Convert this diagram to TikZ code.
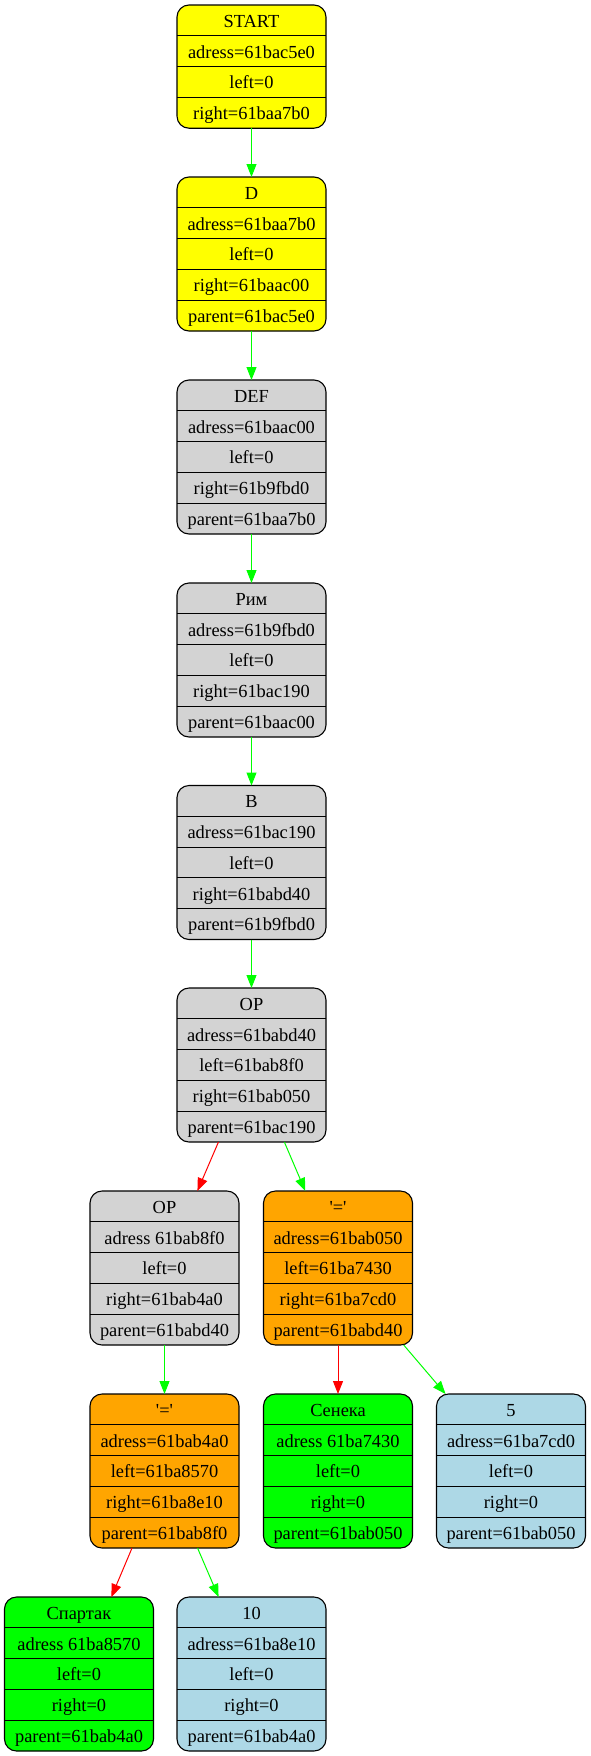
\documentclass[tikz,border=0pt]{standalone}
\usepackage{fontspec}
\setmainfont{Liberation Serif}[Ligatures=TeXOff]
\usetikzlibrary{arrows.meta}
\definecolor{gvyellow}{RGB}{255,255,0}
\definecolor{gvgray}{RGB}{211,211,211}
\definecolor{gvorange}{RGB}{255,165,0}
\definecolor{gvgreen}{RGB}{0,255,0}
\definecolor{gvblue}{RGB}{173,216,230}
\definecolor{gvred}{RGB}{255,0,0}
\tikzset{
  rec/.style={rectangle, draw=black, line width=1.1pt, rounded corners=12pt,
    minimum width=149pt, inner sep=0pt, outer sep=0pt},
  cell/.style={anchor=base, inner sep=0pt, font=\fontsize{18.4}{20}\selectfont},
  divider/.style={line width=1pt},
  gedge/.style={draw=gvgreen, line width=1pt, -{Triangle[length=13pt,width=10pt,fill=gvgreen]}},
  redge/.style={draw=gvred, line width=1pt, -{Triangle[length=13pt,width=10pt,fill=gvred]}}
}
% #1 name, #2 x centre, #3 y top, #4 fill, #5 number of rows, #6 rows
\newcommand\recbox[6]{%
  \node[rec, fill=#4, minimum height=#5*30.8pt, anchor=north] (#1) at (#2,#3) {};
  \foreach \t [count=\i] in {#6} {
    \node[cell] (#1-\i) at (#2, #3+\i*30.8-8.6) {\t};
    \ifnum\i>1
      \draw[divider] (#2-74.5, #3+\i*30.8-30.8) -- (#2+74.5, #3+\i*30.8-30.8);
    \fi
  }
}
\begin{document}
\begin{tikzpicture}[x=1pt, y=-1pt]
\useasboundingbox (0,0) rectangle (591,1756);
\recbox{start}{251.5}{5}{gvyellow}{4}{START, adress=61bac5e0, left=0, right=61baa7b0}
\recbox{d}{251.5}{177}{gvyellow}{5}{D, adress=61baa7b0, left=0, right=61baac00, parent=61bac5e0}
\recbox{def}{251.5}{380}{gvgray}{5}{DEF, adress=61baac00, left=0, right=61b9fbd0, parent=61baa7b0}
\recbox{rim}{251.5}{583}{gvgray}{5}{Рим, adress=61b9fbd0, left=0, right=61bac190, parent=61baac00}
\recbox{b}{251.5}{785.5}{gvgray}{5}{B, adress=61bac190, left=0, right=61babd40, parent=61b9fbd0}
\recbox{op}{251.5}{988}{gvgray}{5}{OP, adress=61babd40, left=61bab8f0, right=61bab050, parent=61bac190}
\recbox{opl}{164.5}{1191}{gvgray}{5}{OP, adress 61bab8f0, left=0, right=61bab4a0, parent=61babd40}
\recbox{eqr}{338}{1191}{gvorange}{5}{'=', adress=61bab050, left=61ba7430, right=61ba7cd0, parent=61babd40}
\recbox{eql}{164.5}{1394}{gvorange}{5}{'=', adress=61bab4a0, left=61ba8570, right=61ba8e10, parent=61bab8f0}
\recbox{seneca}{338}{1394}{gvgreen}{5}{Сенека, adress 61ba7430, left=0, right=0, parent=61bab050}
\recbox{five}{511}{1394}{gvblue}{5}{5, adress=61ba7cd0, left=0, right=0, parent=61bab050}
\recbox{spartak}{79}{1597}{gvgreen}{5}{Спартак, adress 61ba8570, left=0, right=0, parent=61bab4a0}
\recbox{ten}{251.5}{1597}{gvblue}{5}{10, adress=61ba8e10, left=0, right=0, parent=61bab4a0}
\draw[gedge] (start) -- (d);
\draw[gedge] (d) -- (def);
\draw[gedge] (def) -- (rim);
\draw[gedge] (rim) -- (b);
\draw[gedge] (b) -- (op);
\draw[redge] (op) -- (opl);
\draw[gedge] (op) -- (eqr);
\draw[gedge] (opl) -- (eql);
\draw[redge] (eqr) -- (seneca);
\draw[gedge] (eqr) -- (five);
\draw[redge] (eql) -- (spartak);
\draw[gedge] (eql) -- (ten);
\end{tikzpicture}
\end{document}
